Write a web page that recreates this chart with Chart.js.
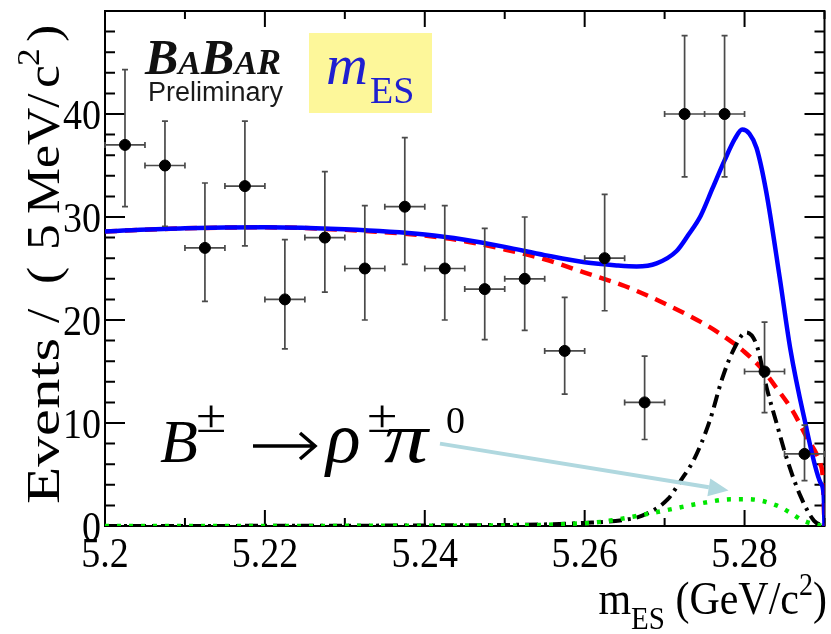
<!DOCTYPE html>
<html>
<head>
<meta charset="utf-8">
<script src="https://cdn.jsdelivr.net/npm/chart.js@4.4.1/dist/chart.umd.min.js"></script>
<style>
    html, body { margin: 0; padding: 0; background: #fff; }
    canvas { display: block; }
</style>
</head>
<body>
<canvas id="mesChart" width="831" height="634"></canvas>
<script>
// binned data (5 MeV bins), counts with asymmetric error bars
const binCenters = [5.2025, 5.2075, 5.2125, 5.2175, 5.2225, 5.2275, 5.2325, 5.2375, 5.2425,
                    5.2475, 5.2525, 5.2575, 5.2625, 5.2675, 5.2725, 5.2775, 5.2825, 5.2875];
const counts  = [37, 35, 27, 33, 22, 28, 25, 31, 25, 23, 24, 17, 26, 12, 40, 40, 15, 7];
const errHigh = [44.3, 39.3, 33.3, 39.3, 27.8, 34.4, 31.1, 37.7, 31.1, 28.9, 30.0, 22.2, 32.2, 16.5, 47.6, 47.6, 19.8, 9.8];
const errLow  = [31.0, 29.1, 21.8, 27.2, 17.2, 22.7, 20.0, 25.4, 20.0, 18.1, 19.0, 12.8, 20.9, 8.4, 33.9, 33.9, 11.0, 4.4];
const binHalfWidth = 0.0025;

// fit curves
const totalX = [5.200, 5.210, 5.220, 5.230, 5.240, 5.245, 5.250, 5.255, 5.260, 5.264, 5.2665, 5.269, 5.2715,
                5.273, 5.2745, 5.276, 5.2775, 5.2788, 5.2797, 5.2806, 5.2815, 5.2827, 5.2844, 5.2857, 5.2874, 5.2895, 5.2899, 5.290];
const totalY = [28.6, 28.9, 29.0, 28.8, 28.3, 27.8, 27.1, 26.3, 25.6, 25.3, 25.2, 25.5, 26.7,
                28.3, 30.1, 32.8, 35.5, 37.6, 38.5, 38.1, 36.7, 32.5, 24.1, 17.3, 10.7, 4.2, 3.0, 0];

const bkgX = [5.200, 5.210, 5.220, 5.230, 5.240, 5.245, 5.250, 5.255, 5.260, 5.265, 5.270, 5.275,
              5.278, 5.280, 5.282, 5.284, 5.286, 5.288, 5.289, 5.2895, 5.2898, 5.290];
const bkgY = [28.6, 28.9, 29.0, 28.75, 28.2, 27.65, 26.85, 25.9, 24.6, 23.3, 21.6, 19.6,
              18.1, 16.9, 15.4, 13.4, 11.2, 8.3, 7.0, 6.0, 4.5, 0];

const sigX = [5.200, 5.250, 5.260, 5.265, 5.2672, 5.2704, 5.2721, 5.2737, 5.2756, 5.2772, 5.2785, 5.2802,
              5.2815, 5.2828, 5.2840, 5.2853, 5.2870, 5.2887, 5.290];
const sigY = [0, 0.1, 0.3, 0.6, 1.0, 2.6, 4.5, 6.5, 10.1, 14.3, 16.9, 18.8,
              17.6, 13.3, 10.0, 6.5, 2.9, 0.5, 0];

const rhoX = [5.200, 5.250, 5.258, 5.262, 5.266, 5.270, 5.2745, 5.2785, 5.2805, 5.284, 5.2857, 5.2874, 5.2895, 5.290];
const rhoY = [0, 0.05, 0.2, 0.4, 0.9, 1.5, 2.2, 2.6, 2.6, 2.0, 1.3, 0.5, 0.05, 0];

// axes
const xTickValues = [5.20, 5.22, 5.24, 5.26, 5.28];
const xTickLabels = ['5.2', '5.22', '5.24', '5.26', '5.28'];
const yTickValues = [0, 10, 20, 30, 40];
const yTickLabels = ['0', '10', '20', '30', '40'];

const serif = '"Liberation Serif", "Times New Roman", serif';

function toXY(xs, ys) {
    return xs.map((x, i) => ({ x: x, y: ys[i] }));
}

// draw a row of text pieces: [text, font, dy, extraAdvance]
function drawParts(ctx, parts, x, y, align) {
    let w = 0;
    parts.forEach(p => { ctx.font = p[1]; w += ctx.measureText(p[0]).width + (p[3] || 0); });
    let cx = x;
    if (align === 'right') cx = x - w;
    if (align === 'center') cx = x - w / 2;
    parts.forEach(p => {
        ctx.font = p[1];
        ctx.fillText(p[0], cx, y + (p[2] || 0));
        cx += ctx.measureText(p[0]).width + (p[3] || 0);
    });
}

// text drawn with its own x/y scale, like the stretched original figure
function scaledText(ctx, text, x, y, sx, sy) {
    ctx.save();
    ctx.translate(x, y);
    ctx.scale(sx, sy);
    ctx.fillText(text, 0, 0);
    ctx.restore();
}

const framePlugin = {
    id: 'frame',
    beforeDatasetsDraw(chart) {
        const { ctx, chartArea: a, scales: { x, y } } = chart;
        ctx.save();
        ctx.strokeStyle = '#000';
        ctx.lineWidth = 2;
        ctx.beginPath();
        // y ticks every 2, major every 10
        for (let i = 0; i <= 25; i++) {
            const py = y.getPixelForValue(i * 2);
            const len = (i % 5 === 0) ? 20 : 10;
            ctx.moveTo(a.left, py); ctx.lineTo(a.left + len, py);
            ctx.moveTo(a.right, py); ctx.lineTo(a.right - len, py);
        }
        // x ticks every 0.01, major every 0.02
        for (let i = 0; i <= 9; i++) {
            const px = x.getPixelForValue(5.2 + i * 0.01);
            const len = (i % 2 === 0) ? 16 : 8;
            ctx.moveTo(px, a.bottom); ctx.lineTo(px, a.bottom - len);
            ctx.moveTo(px, a.top); ctx.lineTo(px, a.top + len);
        }
        ctx.stroke();
        ctx.strokeRect(a.left, a.top, a.right - a.left, a.bottom - a.top);

        // tick labels
        ctx.fillStyle = '#000';
        ctx.font = '38px ' + serif;
        ctx.textAlign = 'right';
        ctx.textBaseline = 'alphabetic';
        yTickValues.forEach((v, i) => scaledText(ctx, yTickLabels[i], a.left - 4, y.getPixelForValue(v) + 15, 1, 1.12));
        ctx.textAlign = 'center';
        xTickValues.forEach((v, i) => scaledText(ctx, xTickLabels[i], x.getPixelForValue(v), 567, 1, 1.12));
        ctx.restore();
    }
};

const errorBarPlugin = {
    id: 'errorBars',
    beforeDatasetDraw(chart, args) {
        if (args.index !== 0) return;
        const { ctx, scales: { x, y } } = chart;
        ctx.save();
        ctx.strokeStyle = '#4a4a4a';
        ctx.lineWidth = 1.7;
        ctx.beginPath();
        binCenters.forEach((c, i) => {
            const px = x.getPixelForValue(c);
            const py = y.getPixelForValue(counts[i]);
            const pl = x.getPixelForValue(c - binHalfWidth);
            const pr = x.getPixelForValue(c + binHalfWidth);
            const pt = y.getPixelForValue(errHigh[i]);
            const pb = y.getPixelForValue(errLow[i]);
            ctx.moveTo(px, pt); ctx.lineTo(px, pb);
            ctx.moveTo(pl, py); ctx.lineTo(pr, py);
            ctx.moveTo(px - 3, pt); ctx.lineTo(px + 3, pt);
            ctx.moveTo(px - 3, pb); ctx.lineTo(px + 3, pb);
            ctx.moveTo(pl, py - 3); ctx.lineTo(pl, py + 3);
            ctx.moveTo(pr, py - 3); ctx.lineTo(pr, py + 3);
        });
        ctx.stroke();
        ctx.restore();
    }
};

const labelPlugin = {
    id: 'labels',
    afterDraw(chart) {
        const { ctx, scales: { x, y } } = chart;
        ctx.save();
        ctx.fillStyle = '#000';
        ctx.textBaseline = 'alphabetic';
        ctx.textAlign = 'left';

        // y axis title: [text, screen y where it starts, x shift, stretch along the text]
        const yTitle = [
            ['Events', 504, 0, 1.3], ['/', 323, 0, 1.1], ['(', 284, 0, 1.1], ['5', 250, 0, 1.1],
            ['MeV/', 214, 0, 1.1], ['c', 88, 0, 1.1], ['2', 66, -20, 1.1], [')', 42, 0, 1.1]
        ];
        yTitle.forEach(p => {
            ctx.save();
            ctx.translate(59 + p[2], p[1]);
            ctx.rotate(-Math.PI / 2);
            ctx.scale(p[3], 1);
            ctx.font = (p[0] === '2' ? '32px ' : '47px ') + serif;
            ctx.fillText(p[0], 0, 0);
            ctx.restore();
        });

        // x axis title
        ctx.save();
        ctx.translate(827, 614);
        ctx.scale(1, 1.1);
        drawParts(ctx, [
            ['m', '42px ' + serif],
            ['ES', '29px ' + serif, 14],
            [' (GeV/c', '42px ' + serif],
            ['2', '28px ' + serif, -17],
            [')', '42px ' + serif]
        ], 0, 0, 'right');
        ctx.restore();

        // BaBar logo
        ctx.fillStyle = '#111';
        drawParts(ctx, [
            ['B', 'italic bold 50px ' + serif],
            ['A', 'italic bold 34px ' + serif],
            ['B', 'italic bold 50px ' + serif],
            ['A', 'italic bold 34px ' + serif],
            ['R', 'italic bold 36px ' + serif]
        ], 145, 74, 'left');
        ctx.fillStyle = '#1a1a1a';
        ctx.font = '27px "Liberation Sans", Arial, sans-serif';
        ctx.fillText('Preliminary', 148, 101);

        // m_ES box
        ctx.fillStyle = '#fdf79a';
        ctx.fillRect(309, 33, 123, 80);
        ctx.fillStyle = '#1f1fd0';
        ctx.font = 'italic 58px ' + serif;
        ctx.fillText('m', 326, 84);
        ctx.font = '38px ' + serif;
        ctx.fillText('ES', 370, 103);

        // decay label
        ctx.fillStyle = '#000';
        ctx.font = 'italic 62px ' + serif;
        ctx.fillText('B', 160, 462);
        ctx.font = '46px ' + serif;
        scaledText(ctx, '\u00b1', 196, 432, 1.2, 1);
        ctx.font = 'italic 72px ' + serif;
        ctx.fillText('\u03c1', 326, 462);
        ctx.font = '46px ' + serif;
        scaledText(ctx, '\u00b1', 367, 432, 1.2, 1);
        ctx.font = 'italic 72px ' + serif;
        scaledText(ctx, '\u03c0', 384, 462, 1.22, 1);
        ctx.font = '38px ' + serif;
        ctx.fillText('0', 446, 433);
        // the reaction arrow
        ctx.strokeStyle = '#000';
        ctx.lineWidth = 3.5;
        ctx.beginPath();
        ctx.moveTo(253, 446); ctx.lineTo(314, 446);
        ctx.moveTo(300, 433); ctx.lineTo(315, 446); ctx.lineTo(300, 459);
        ctx.stroke();

        // arrow to the rho pi0 component
        const x0 = x.getPixelForValue(5.2419), y0 = y.getPixelForValue(8.0);
        const x1 = x.getPixelForValue(5.2780), y1 = y.getPixelForValue(3.45);
        const ang = Math.atan2(y1 - y0, x1 - x0);
        const headLen = 20, headW = 9;
        const bx = x1 - headLen * Math.cos(ang), by = y1 - headLen * Math.sin(ang);
        ctx.strokeStyle = '#b0d8df';
        ctx.fillStyle = '#b0d8df';
        ctx.lineWidth = 4;
        ctx.beginPath();
        ctx.moveTo(x0, y0);
        ctx.lineTo(bx, by);
        ctx.stroke();
        ctx.beginPath();
        ctx.moveTo(x1, y1);
        ctx.lineTo(bx + headW * Math.sin(ang), by - headW * Math.cos(ang));
        ctx.lineTo(bx - headW * Math.sin(ang), by + headW * Math.cos(ang));
        ctx.closePath();
        ctx.fill();
        ctx.restore();
    }
};

const ctx = document.getElementById('mesChart').getContext('2d');
const mesChart = new Chart(ctx, {
    type: 'scatter',
    data: {
        datasets: [
            {
                label: 'Data',
                data: toXY(binCenters, counts),
                backgroundColor: '#000',
                borderColor: '#000',
                pointRadius: 5.5,
                order: 0
            },
            {
                label: 'Total fit',
                data: toXY(totalX, totalY),
                showLine: true,
                borderColor: '#0000ff',
                borderWidth: 4.5,
                pointRadius: 0,
                cubicInterpolationMode: 'monotone',
                order: 1
            },
            {
                label: 'B -> rho pi0',
                data: toXY(rhoX, rhoY),
                showLine: true,
                borderColor: '#00e600',
                borderWidth: 4.5,
                borderDash: [4, 8],
                pointRadius: 0,
                cubicInterpolationMode: 'monotone',
                order: 2
            },
            {
                label: 'Signal',
                data: toXY(sigX, sigY),
                showLine: true,
                borderColor: '#000',
                borderWidth: 4,
                borderDash: [13, 6, 3, 6],
                pointRadius: 0,
                cubicInterpolationMode: 'monotone',
                order: 3
            },
            {
                label: 'Continuum',
                data: toXY(bkgX, bkgY),
                showLine: true,
                borderColor: '#ff0000',
                borderWidth: 4.5,
                borderDash: [12, 8],
                pointRadius: 0,
                cubicInterpolationMode: 'monotone',
                order: 4
            }
        ]
    },
    options: {
        responsive: false,
        animation: false,
        layout: { padding: { left: 105, right: 6, top: 11, bottom: 108 } },
        scales: {
            x: { type: 'linear', min: 5.2, max: 5.29, display: false },
            y: { type: 'linear', min: 0, max: 50, display: false }
        },
        plugins: {
            legend: { display: false },
            tooltip: { enabled: false }
        }
    },
    plugins: [framePlugin, errorBarPlugin, labelPlugin]
});
</script>
</body>
</html>
